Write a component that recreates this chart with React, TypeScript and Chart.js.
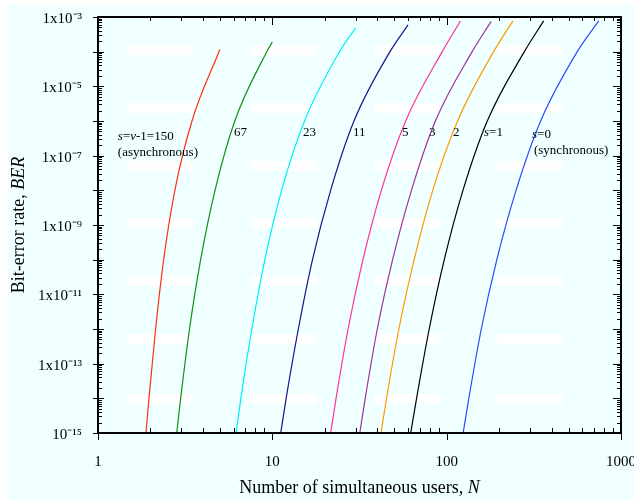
import { useEffect, useRef } from 'react';
import { Chart, registerables } from 'chart.js';
Chart.register(...registerables);

// ---- data ----
const seriesNames = ['s=150', 's=67', 's=23', 's=11', 's=5', 's=3', 's=2', 's=1', 's=0'];
const seriesColors = ['#ff3010', '#129012', '#00f0f8', '#14148a', '#ff3399', '#a030a0', '#ff9a00', '#000000', '#2a4cff'];

const nS150 = [1.885, 1.96, 2.14, 2.38, 2.76, 3.46, 5.0];
const berS150 = [1e-15, 1e-14, 1e-12, 1e-10, 1e-8, 1e-6, 1.15e-4];
const nS67 = [2.83, 2.98, 3.35, 3.88, 4.69, 6.09, 9.3, 10];
const berS67 = [1e-15, 1e-14, 1e-12, 1e-10, 1e-8, 1e-6, 1e-4, 1.9e-4];
const nS23 = [6.19, 6.6, 7.63, 9.06, 11.3, 15.3, 24.3, 30];
const berS23 = [1e-15, 1e-14, 1e-12, 1e-10, 1e-8, 1e-6, 1e-4, 4.8e-4];
const nS11 = [11.17, 12.0, 14.1, 17.0, 21.6, 29.4, 47.3, 60];
const berS11 = [1e-15, 1e-14, 1e-12, 1e-10, 1e-8, 1e-6, 1e-4, 5.9e-4];
const nS5 = [21.6, 23.2, 27.2, 33.1, 42.2, 58.2, 94.3, 120];
const berS5 = [1e-15, 1e-14, 1e-12, 1e-10, 1e-8, 1e-6, 1e-4, 7.7e-4];
const nS3 = [31.75, 34.1, 40.0, 49.0, 62.8, 86.2, 140, 180];
const berS3 = [1e-15, 1e-14, 1e-12, 1e-10, 1e-8, 1e-6, 1e-4, 7.5e-4];
const nS2 = [42.0, 45.2, 53.2, 65.1, 83.2, 115.5, 186, 240];
const berS2 = [1e-15, 1e-14, 1e-12, 1e-10, 1e-8, 1e-6, 1e-4, 7.7e-4];
const nS1 = [62.2, 67.2, 79.4, 96.9, 124, 171, 279, 360];
const berS1 = [1e-15, 1e-14, 1e-12, 1e-10, 1e-8, 1e-6, 1e-4, 7.7e-4];
const nS0 = [124.3, 134, 158, 194, 250, 346, 561, 745];
const berS0 = [1e-15, 1e-14, 1e-12, 1e-10, 1e-8, 1e-6, 1e-4, 7.7e-4];

const seriesN = [nS150, nS67, nS23, nS11, nS5, nS3, nS2, nS1, nS0];
const seriesBer = [berS150, berS67, berS23, berS11, berS5, berS3, berS2, berS1, berS0];

const xTickValues = [1, 10, 100, 1000];
const xTickLabels = ['1', '10', '100', '1000'];
const yTickValues = [1e-15, 1e-13, 1e-11, 1e-9, 1e-7, 1e-5, 1e-3];
const yTickLabels = ['10⁻¹⁵', '1x10⁻¹³', '1x10⁻¹¹', '1x10⁻⁹', '1x10⁻⁷', '1x10⁻⁵', '1x10⁻³'];

// curve annotations: text segments [text, italic], anchored at (N, BER)
const annoSegs = [
  [['s', 1], ['=', 0], ['v', 1], ['-1=150', 0]],
  [['(asynchronous)', 0]],
  [['67', 0]],
  [['23', 0]],
  [['11', 0]],
  [['5', 0]],
  [['3', 0]],
  [['2', 0]],
  [['s', 1], ['=1', 0]],
  [['s', 1], ['=0', 0]],
  [['(synchronous)', 0]],
];
const annoN = [1.3, 1.3, 6.03, 15.0, 29.0, 55.4, 79.2, 108.7, 163.8, 308.9, 316.8];
const annoBer = [3.46e-7, 1.19e-7, 4.5e-7, 4.5e-7, 4.5e-7, 4.5e-7, 4.5e-7, 4.5e-7, 4.5e-7, 3.95e-7, 1.36e-7];

// ---- styling ----
const FONT = 'Liberation Serif, Times New Roman, serif';
const bandCols = [29, 153, 276, 399];
const bandRows = [28, 86, 144, 201, 259, 317, 377];
const bandW = 66;
const bandH = 10;

function drawSegs(ctx: any, segs: any[], x: number, y: number, size: number, align: string) {
  const widths = segs.map((s) => {
    ctx.font = `${s[1] ? 'italic ' : ''}${size}px ${FONT}`;
    return ctx.measureText(s[0]).width;
  });
  const total = widths.reduce((a, b) => a + b, 0);
  let cx = align === 'center' ? x - total / 2 : x;
  segs.forEach((s, i) => {
    ctx.font = `${s[1] ? 'italic ' : ''}${size}px ${FONT}`;
    ctx.fillText(s[0], cx, y);
    cx += widths[i];
  });
}

const decoPlugin = {
  id: 'deco',
  beforeDatasetsDraw(chart: any) {
    const { ctx, chartArea: a } = chart;
    ctx.save();
    ctx.fillStyle = '#ffffff';
    for (const cx of bandCols) for (const ry of bandRows) ctx.fillRect(a.left + cx, a.top + ry, bandW, bandH);
    ctx.restore();
  },
  afterDraw(chart: any) {
    const { ctx, chartArea: a, scales } = chart;
    const xs = scales.x;
    const ys = scales.y;
    ctx.save();
    ctx.strokeStyle = '#000';
    ctx.lineWidth = 1;
    ctx.beginPath();
    // x ticks
    for (let e = 0; e <= 3; e++) {
      for (let m = 1; m <= 9; m++) {
        const v = m * Math.pow(10, e);
        if (v > 1000) break;
        const px = Math.round(xs.getPixelForValue(v)) + 0.5;
        if (m === 1) {
          ctx.moveTo(px, a.bottom); ctx.lineTo(px, a.bottom + 7);
          ctx.moveTo(px, a.top); ctx.lineTo(px, a.top + 8);
        } else {
          ctx.moveTo(px, a.bottom); ctx.lineTo(px, a.bottom - 5);
          ctx.moveTo(px, a.top); ctx.lineTo(px, a.top + 4);
        }
      }
    }
    // y ticks
    for (let e = -15; e <= -3; e++) {
      for (let m = 1; m <= 9; m++) {
        const v = m * Math.pow(10, e);
        if (v > 1.0001e-3) break;
        const py = Math.round(ys.getPixelForValue(v)) + 0.5;
        if (m === 1) {
          ctx.moveTo(a.left - 5, py); ctx.lineTo(a.left + 6, py);
          ctx.moveTo(a.right, py); ctx.lineTo(a.right - 8, py);
        } else {
          ctx.moveTo(a.left, py); ctx.lineTo(a.left + 4, py);
          ctx.moveTo(a.right, py); ctx.lineTo(a.right - 4, py);
        }
      }
    }
    ctx.stroke();
    ctx.lineWidth = 2;
    ctx.strokeRect(a.left, a.top, a.right - a.left, a.bottom - a.top);

    // annotations
    ctx.fillStyle = '#000';
    ctx.textBaseline = 'middle';
    ctx.textAlign = 'left';
    annoSegs.forEach((segs, i) => {
      const x = xs.getPixelForValue(annoN[i]);
      const y = ys.getPixelForValue(annoBer[i]);
      drawSegs(ctx, segs, x, y, 13, 'left');
    });

    // axis titles
    const cxMid = (a.left + a.right) / 2;
    drawSegs(ctx, [['Number of simultaneous users, ', 0], ['N', 1]], cxMid, 483, 18, 'center');
    ctx.save();
    ctx.translate(11, (a.top + a.bottom) / 2);
    ctx.rotate(-Math.PI / 2);
    drawSegs(ctx, [['Bit-error rate, ', 0], ['BER', 1]], 0, 0, 18, 'center');
    ctx.restore();
    ctx.restore();
  },
};

export default function App() {
  const ref = useRef<HTMLCanvasElement>(null);
  useEffect(() => {
    const canvas = ref.current;
    if (!canvas) return;
    const datasets = seriesNames.map((name, i) => ({
      label: name,
      data: seriesN[i].map((n, j) => ({ x: n, y: seriesBer[i][j] })),
      borderColor: seriesColors[i],
      backgroundColor: seriesColors[i],
      borderWidth: 1.2,
      pointRadius: 0,
      fill: false,
      cubicInterpolationMode: 'monotone',
    }));
    const chart = new Chart(canvas, {
      type: 'line',
      data: { datasets },
      plugins: [decoPlugin],
      options: {
        animation: false,
        responsive: false,
        devicePixelRatio: 1,
        layout: { padding: { top: 12, right: 13, left: 0, bottom: 0 } },
        plugins: { legend: { display: false }, tooltip: { enabled: false } },
        scales: {
          x: {
            type: 'logarithmic',
            min: 1,
            max: 1000,
            grid: { display: false },
            border: { display: false },
            afterBuildTicks: (s: any) => { s.ticks = xTickValues.map((v) => ({ value: v })); },
            afterFit: (s: any) => { s.height = 67; s.paddingLeft = 0; s.paddingRight = 0; },
            ticks: {
              autoSkip: false,
              maxRotation: 0,
              padding: 12,
              color: '#000',
              font: { family: FONT, size: 15 },
              callback: (v: any) => { const i = xTickValues.indexOf(Number(v)); return i >= 0 ? xTickLabels[i] : ''; },
            },
          },
          y: {
            type: 'logarithmic',
            min: 1e-15,
            max: 1e-3,
            grid: { display: false },
            border: { display: false },
            afterBuildTicks: (s: any) => { s.ticks = yTickValues.map((v) => ({ value: v })); },
            afterFit: (s: any) => { s.width = 90; s.paddingTop = 0; s.paddingBottom = 0; },
            ticks: {
              autoSkip: false,
              padding: 8,
              labelOffset: 2,
              color: '#000',
              font: { family: FONT, size: 15 },
              callback: (v: any) => {
                const i = yTickValues.findIndex((t) => Math.abs(Math.log10(t) - Math.log10(Number(v))) < 1e-6);
                return i >= 0 ? yTickLabels[i] : '';
              },
            },
          },
        },
      } as any,
    });
    return () => chart.destroy();
  }, []);
  return (
    <div style={{ position: 'absolute', left: 8, top: 5, width: 626, height: 495, background: '#f0ffff' }}>
      <canvas ref={ref} width={626} height={495} style={{ display: 'block' }} />
    </div>
  );
}
